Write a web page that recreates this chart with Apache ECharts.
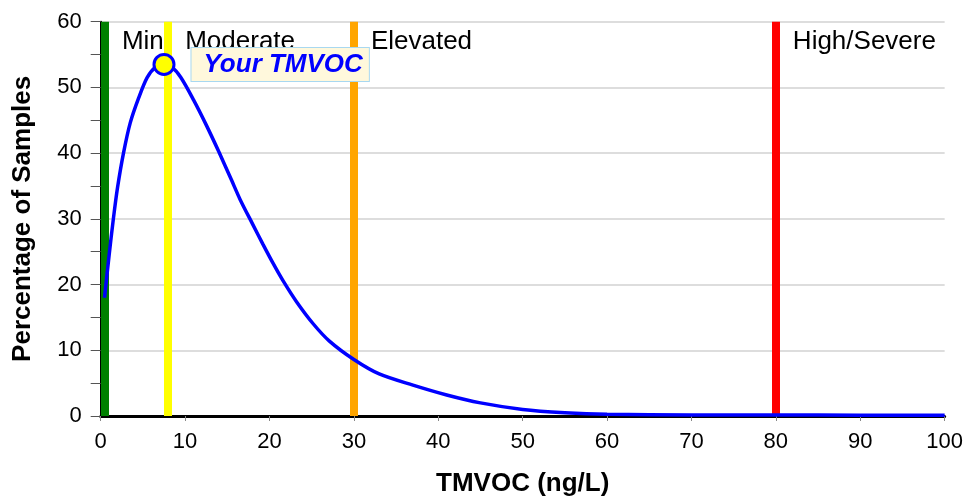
<!DOCTYPE html>
<html>
<head>
<meta charset="utf-8">
<script src="https://cdn.jsdelivr.net/npm/echarts@6/dist/echarts.min.js"></script>
<style>
  html, body { margin: 0; padding: 0; background: #fff; }
  #chart { width: 966px; height: 502px; }
</style>
</head>
<body>
<div id="chart"></div>
<script>
// Distribution curve: TMVOC (ng/L) vs percentage of samples
const curveX = [0.45, 1.0, 1.5, 2.0, 2.7, 3.5, 4.5, 5.5, 6.5, 7.5, 8.5, 9.5, 11, 12.5, 14, 15.5, 16.5, 18, 19.2, 20.4, 21.6, 23.2, 25.2, 27.1, 30, 33, 37, 41, 45, 50, 55, 60, 70, 80, 90, 100];
const curveY = [18, 24.5, 30, 34.8, 40, 44.6, 48.4, 51.5, 53.1, 53.5, 53.0, 51.5, 48.1, 44.3, 40.2, 35.9, 33.0, 29.2, 26.2, 23.3, 20.6, 17.4, 14.0, 11.4, 8.6, 6.4, 4.7, 3.2, 2.0, 1.0, 0.5, 0.25, 0.15, 0.15, 0.12, 0.1];

// Threshold bands
const thresholdX = [0.5, 8, 30, 80];
const thresholdColors = ['#008000', '#FFFF00', '#FFA500', '#FF0000'];
const thresholdLabels = ['Min', 'Moderate', 'Elevated', 'High/Severe'];
const labelY = 56.9;

// User's value
const yourX = 7.5;
const yourY = 53.5;
const yourLabel = 'Your TMVOC';

// Axis ticks
const xTicks = [0, 10, 20, 30, 40, 50, 60, 70, 80, 90, 100];
const yTicks = [0, 10, 20, 30, 40, 50, 60];

const FONT = '"Liberation Sans", Arial, sans-serif';

const chart = echarts.init(document.getElementById('chart'));
chart.setOption({
  animation: false,
  backgroundColor: '#ffffff',
  grid: { left: 100.7, right: 20.3, top: 21.7, bottom: 82.5, containLabel: false },
  xAxis: {
    type: 'value',
    min: xTicks[0], max: xTicks[xTicks.length - 1], interval: 10,
    name: 'TMVOC (ng/L)',
    nameLocation: 'middle',
    nameGap: 55,
    nameTextStyle: { fontFamily: FONT, fontSize: 26, fontWeight: 'bold', color: '#000' },
    axisLine: { show: true, onZero: false, lineStyle: { color: '#000', width: 3 } },
    axisTick: { show: true, length: 5, lineStyle: { color: '#888', width: 1 } },
    axisLabel: { fontFamily: FONT, fontSize: 22, color: '#000', margin: 15 },
    splitLine: { show: false }
  },
  yAxis: {
    type: 'value',
    min: yTicks[0], max: yTicks[yTicks.length - 1], interval: 10,
    name: 'Percentage of Samples',
    nameLocation: 'middle',
    nameGap: 65,
    nameTextStyle: { fontFamily: FONT, fontSize: 26, fontWeight: 'bold', color: '#000' },
    axisLine: { show: true, lineStyle: { color: '#000', width: 2 } },
    axisTick: { show: true, length: 10, lineStyle: { color: '#555', width: 1 } },
    minorTick: { show: true, splitNumber: 2, length: 10, lineStyle: { color: '#555', width: 1 } },
    axisLabel: { fontFamily: FONT, fontSize: 22, color: '#000', margin: 19 },
    splitLine: { show: true, lineStyle: { color: '#dddddd', width: 2 } }
  },
  series: [
    {
      type: 'line',
      z: 1,
      data: [],
      silent: true,
      markLine: {
        z: 1,
        silent: true,
        symbol: ['none', 'none'],
        label: { show: false },
        emphasis: { disabled: true },
        data: thresholdX.map((x, i) => ({
          xAxis: x,
          lineStyle: { color: thresholdColors[i], width: 8, type: 'solid', opacity: 1 }
        }))
      }
    },
    {
      type: 'scatter',
      z: 2,
      silent: true,
      symbolSize: 0,
      itemStyle: { opacity: 1 },
      data: thresholdX.map((x, i) => ({ value: [x, labelY], name: thresholdLabels[i] })),
      label: {
        show: true,
        position: 'right',
        distance: 17,
        formatter: p => p.name,
        fontFamily: FONT,
        fontSize: 26,
        color: '#000',
        opacity: 1
      }
    },
    {
      type: 'line',
      z: 3,
      silent: true,
      smooth: 0.3,
      showSymbol: false,
      symbol: 'none',
      lineStyle: { color: '#0000FF', width: 3.5, opacity: 1 },
      data: curveX.map((x, i) => [x, curveY[i]])
    },
    {
      type: 'scatter',
      z: 5,
      silent: true,
      symbol: 'circle',
      symbolSize: 20,
      itemStyle: { color: '#FFFF00', borderColor: '#0000FF', borderWidth: 3, opacity: 1 },
      data: [{ value: [yourX, yourY], name: yourLabel }],
      label: {
        show: true,
        position: 'right',
        distance: 16,
        formatter: p => p.name,
        fontFamily: FONT,
        fontSize: 26,
        fontWeight: 'bold',
        fontStyle: 'italic',
        color: '#0000FF',
        opacity: 1,
        backgroundColor: '#FFF8DC',
        borderColor: '#A8D8F0',
        borderWidth: 1,
        padding: [4, 6, 3, 12]
      }
    }
  ]
});
</script>
</body>
</html>
